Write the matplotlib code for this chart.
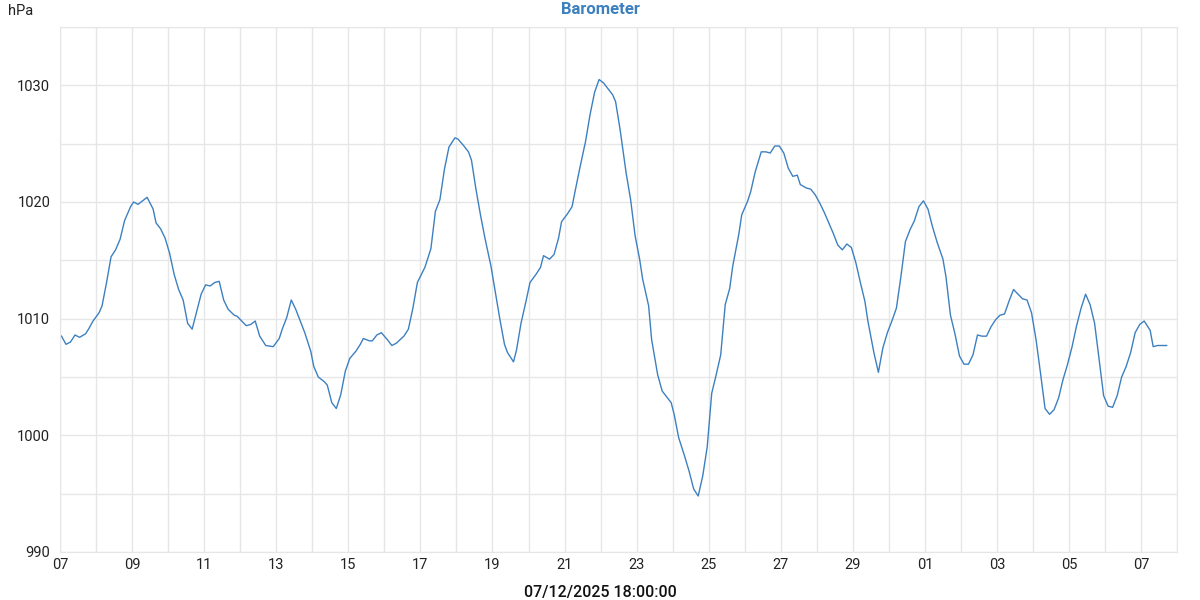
import matplotlib
matplotlib.use('Agg')
import matplotlib.pyplot as plt
import matplotlib.dates as mdates
from matplotlib.ticker import MultipleLocator
import pandas as pd

plt.rcParams['font.family'] = ['Roboto', 'DejaVu Sans']

# readings: hours after 07/11/2025 00:00, pressure in hPa
start = pd.Timestamp('2025-11-07 00:00')
hours = [
    1, 4, 7, 10, 13, 17, 19, 22, 26, 28, 31, 34, 37, 40, 43, 47, 49, 52, 56, 58,
    62, 64, 67, 70, 73, 76, 79, 82, 85, 88, 91, 94, 97, 100, 103, 106, 109, 112, 116, 118,
    124, 127, 130, 133, 137, 142, 146, 148, 151, 154, 157, 160, 163, 167, 169, 172, 176, 178, 181, 184,
    187, 190, 193, 197, 200, 202, 206, 208, 211, 214, 218, 221, 224, 229, 232, 235, 238, 243, 247, 250,
    253, 256, 259, 263, 265, 269, 272, 274, 277, 280, 283, 287, 290, 293, 296, 298, 302, 304, 307, 310,
    313, 317, 320, 322, 326, 329, 332, 334, 338, 341, 343, 346, 350, 353, 356, 359, 362, 365, 368, 370,
    373, 377, 380, 383, 386, 388, 392, 394, 398, 401, 404, 407, 409, 412, 416, 419, 422, 425, 428, 431,
    434, 437, 440, 443, 446, 448, 452, 454, 458, 460, 463, 467, 470, 473, 476, 479, 482, 485, 488, 491,
    493, 497, 500, 503, 506, 509, 512, 515, 518, 521, 524, 527, 530, 533, 536, 538, 542, 545, 548, 551,
    554, 557, 560, 563, 566, 569, 572, 575, 578, 581, 584, 588, 590, 593, 596, 599, 602, 605, 608, 611,
    614, 617, 620, 623, 626, 629, 632, 635, 638, 641, 644, 647, 650, 653, 656, 659, 662, 665, 668, 671,
    674, 677, 680, 683, 686, 689, 692, 695, 698, 701, 704, 707, 710, 713, 716, 719, 722, 726, 728, 731,
    734, 737,
]
pressure = [
    1008.5, 1007.8, 1008.0, 1008.6, 1008.4, 1008.7, 1009.1, 1009.8, 1010.5, 1011.1,
    1013.1, 1015.3, 1015.9, 1016.8, 1018.4, 1019.6, 1020.0, 1019.8, 1020.2, 1020.4,
    1019.4, 1018.2, 1017.7, 1016.9, 1015.6, 1013.8, 1012.5, 1011.6, 1009.6, 1009.1,
    1010.6, 1012.1, 1012.9, 1012.8, 1013.1, 1013.2, 1011.6, 1010.8, 1010.3, 1010.2,
    1009.4, 1009.5, 1009.8, 1008.5, 1007.7, 1007.6, 1008.3, 1009.1, 1010.1, 1011.6,
    1010.8, 1009.8, 1008.8, 1007.2, 1005.9, 1005.0, 1004.6, 1004.3, 1002.8, 1002.3,
    1003.5, 1005.5, 1006.6, 1007.2, 1007.8, 1008.3, 1008.1, 1008.1, 1008.6, 1008.8,
    1008.2, 1007.7, 1007.9, 1008.5, 1009.1, 1010.9, 1013.1, 1014.4, 1016.0, 1019.2,
    1020.2, 1022.8, 1024.7, 1025.5, 1025.4, 1024.8, 1024.3, 1023.6, 1021.1, 1018.9,
    1016.9, 1014.5, 1012.2, 1009.9, 1007.8, 1007.1, 1006.3, 1007.3, 1009.6, 1011.3,
    1013.1, 1013.8, 1014.4, 1015.4, 1015.1, 1015.5, 1016.9, 1018.3, 1019.0, 1019.6,
    1020.9, 1022.8, 1025.2, 1027.5, 1029.4, 1030.5, 1030.2, 1029.7, 1029.2, 1028.6,
    1026.2, 1022.5, 1020.2, 1017.1, 1015.1, 1013.4, 1011.1, 1008.2, 1005.2, 1003.8,
    1003.3, 1002.8, 1001.8, 999.8, 998.2, 996.9, 995.4, 994.8, 996.5, 999.0,
    1003.6, 1005.2, 1006.9, 1011.2, 1012.6, 1014.5, 1017.2, 1018.9, 1020.1, 1020.9,
    1022.6, 1024.3, 1024.3, 1024.2, 1024.8, 1024.8, 1024.2, 1022.9, 1022.2, 1022.3,
    1021.5, 1021.2, 1021.1, 1020.6, 1019.9, 1019.1, 1018.2, 1017.3, 1016.3, 1015.9,
    1016.4, 1016.1, 1014.8, 1013.1, 1011.5, 1009.8, 1007.1, 1005.4, 1007.5, 1008.8,
    1009.8, 1010.9, 1013.6, 1016.6, 1017.6, 1018.4, 1019.6, 1020.1, 1019.4, 1017.9,
    1016.6, 1015.1, 1013.6, 1010.3, 1008.7, 1006.8, 1006.1, 1006.1, 1006.9, 1008.6,
    1008.5, 1008.5, 1009.3, 1009.9, 1010.3, 1010.4, 1011.5, 1012.5, 1012.1, 1011.7,
    1011.6, 1010.5, 1008.2, 1005.3, 1002.3, 1001.8, 1002.2, 1003.2, 1004.8, 1006.1,
    1007.6, 1009.4, 1010.9, 1012.1, 1011.2, 1009.6, 1006.5, 1003.4, 1002.5, 1002.4,
    1003.4, 1005.0, 1005.9, 1007.1, 1008.8, 1009.5, 1009.8, 1009.0, 1007.6, 1007.7,
    1007.7, 1007.7,
]

times = start + pd.to_timedelta(hours, unit='h')
x_ticks = pd.date_range('2025-11-07', '2025-12-07', freq='2D')
x_end = pd.Timestamp('2025-12-08')

fig = plt.figure(figsize=(12, 6), dpi=100)
ax = fig.add_axes([0.05, 0.08, 0.931, 0.875])

ax.plot(times, pressure, color='#3d80c0', linewidth=1.0)

ax.set_xlim(start, x_end)
ax.set_ylim(990, 1035)

ax.set_xticks(x_ticks)
ax.xaxis.set_major_formatter(mdates.DateFormatter('%d'))
ax.xaxis.set_minor_locator(mdates.DayLocator())
ax.yaxis.set_minor_locator(MultipleLocator(5))
ax.set_yticks([990, 1000, 1010, 1020, 1030])

ax.grid(True, which='both', color='#e6e6e6', linewidth=1.0)
ax.set_axisbelow(True)
ax.tick_params(which='both', length=0, labelsize=10.5, colors='#222222', pad=4)
ax.tick_params(axis='y', pad=7)
for s in ax.spines.values():
    s.set_color('#e6e6e6')

fig.text(0.5, 1 - 10 / 600, 'Barometer', ha='center', va='center',
         fontsize=12, fontweight='bold', color='#3d80c0')
fig.text(8 / 1200, 1 - 11 / 600, 'hPa', ha='left', va='center',
         fontsize=10.5, color='#222222')
fig.text(0.5, 1 - 592 / 600, '07/12/2025 18:00:00', ha='center', va='center',
         fontsize=11.5, fontweight='medium', color='#111111')

plt.savefig('out.png', dpi=100)
plt.close(fig)
